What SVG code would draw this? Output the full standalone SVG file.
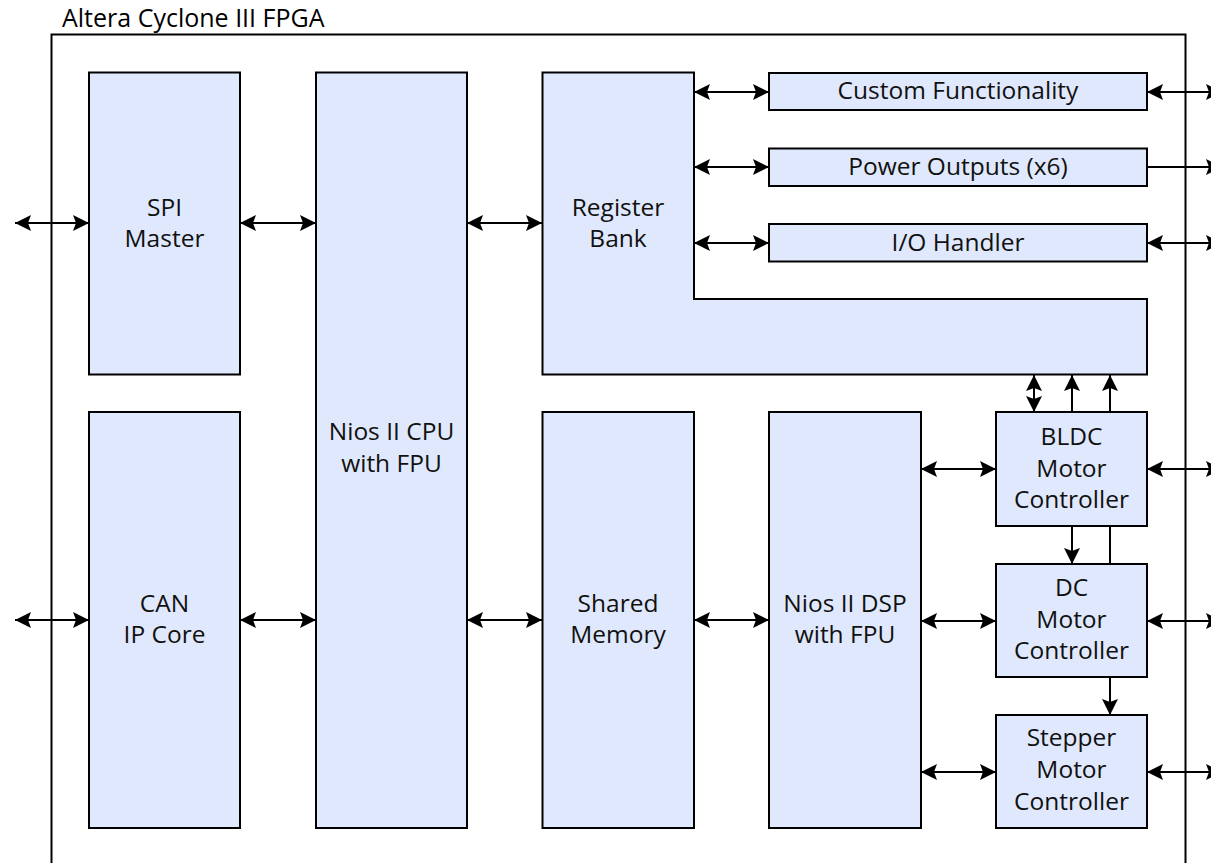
<svg xmlns="http://www.w3.org/2000/svg" width="1211" height="863" viewBox="0 0 1211 863">
<defs>
<style>
.box{fill:#dfe8fc;stroke:#000;stroke-width:2}
.lbl{font-family:"Open Sans","Noto Sans","DejaVu Sans",sans-serif;font-size:24.5px;fill:#111;text-anchor:middle}
.title{font-family:"Open Sans","Noto Sans","DejaVu Sans",sans-serif;font-size:25px;fill:#000}
.c{fill:none;stroke:#000;stroke-width:2}
.a2{marker-start:url(#ah);marker-end:url(#ah)}
.a1{marker-end:url(#ah)}
</style>
<marker id="ah" markerUnits="userSpaceOnUse" markerWidth="20" markerHeight="20" viewBox="-18 -10 20 20" refX="0" refY="0" orient="auto-start-reverse">
<path d="M0,0 L-16,-8 L-13,0 L-16,8 Z" fill="#000"/>
</marker>
</defs>
<rect width="1211" height="863" fill="#fff"/>
<text class="title" x="62" y="27">Altera Cyclone III FPGA</text>
<rect x="51.5" y="34.5" width="1134" height="900" fill="none" stroke="#000" stroke-width="2"/>

<g id="connectors">
<line class="c a2" x1="15" y1="223" x2="89" y2="223"/>
<line class="c a2" x1="240" y1="223" x2="316" y2="223"/>
<line class="c a2" x1="467" y1="223" x2="542" y2="223"/>
<line class="c a2" x1="15" y1="620" x2="89" y2="620"/>
<line class="c a2" x1="240" y1="620" x2="316" y2="620"/>
<line class="c a2" x1="467" y1="620" x2="542" y2="620"/>
<line class="c a2" x1="694" y1="620" x2="769" y2="620"/>
<line class="c a2" x1="694" y1="92" x2="769" y2="92"/>
<line class="c a2" x1="694" y1="167" x2="769" y2="167"/>
<line class="c a2" x1="694" y1="243" x2="769" y2="243"/>
<line class="c a2" x1="1147" y1="92" x2="1222" y2="92"/>
<line class="c a1" x1="1147" y1="167" x2="1222" y2="167"/>
<line class="c a2" x1="1147" y1="243" x2="1222" y2="243"/>
<line class="c a2" x1="921" y1="469" x2="996" y2="469"/>
<line class="c a2" x1="921" y1="621" x2="996" y2="621"/>
<line class="c a2" x1="921" y1="772" x2="996" y2="772"/>
<line class="c a2" x1="1147" y1="469" x2="1222" y2="469"/>
<line class="c a2" x1="1147" y1="621" x2="1222" y2="621"/>
<line class="c a2" x1="1147" y1="772" x2="1222" y2="772"/>
<line class="c a2" x1="1034" y1="375" x2="1034" y2="412"/>
<line class="c a1" x1="1072" y1="412" x2="1072" y2="375"/>
<line class="c a1" x1="1110" y1="412" x2="1110" y2="375"/>
<line class="c a1" x1="1072" y1="526" x2="1072" y2="564"/>
<line class="c" x1="1110" y1="526" x2="1110" y2="564"/>
<line class="c a1" x1="1110" y1="677" x2="1110" y2="715"/>
</g>

<g id="spi"><rect class="box" x="89" y="72.5" width="151" height="302"/>
<text class="lbl" x="164.5" y="216">SPI</text><text class="lbl" x="164.5" y="247">Master</text></g>
<g id="can"><rect class="box" x="89" y="412" width="151" height="416"/>
<text class="lbl" x="164.5" y="612">CAN</text><text class="lbl" x="164.5" y="643">IP Core</text></g>
<g id="cpu"><rect class="box" x="316" y="72.5" width="151" height="755.5"/>
<text class="lbl" x="391.5" y="440">Nios II CPU</text><text class="lbl" x="391.5" y="472">with FPU</text></g>
<g id="regbank"><path class="box" d="M542.5,72.5 H694 V299 H1147 V374.5 H542.5 Z"/>
<text class="lbl" x="618" y="216">Register</text><text class="lbl" x="618" y="247">Bank</text></g>
<g id="custom"><rect class="box" x="769" y="73" width="378" height="37"/>
<text class="lbl" x="958" y="99">Custom Functionality</text></g>
<g id="power"><rect class="box" x="769" y="148.5" width="378" height="37.5"/>
<text class="lbl" x="958" y="175">Power Outputs (x6)</text></g>
<g id="io"><rect class="box" x="769" y="224" width="378" height="37.5"/>
<text class="lbl" x="958" y="250.5">I/O Handler</text></g>
<g id="shared"><rect class="box" x="542.5" y="412" width="151.5" height="416"/>
<text class="lbl" x="618" y="612">Shared</text><text class="lbl" x="618" y="643">Memory</text></g>
<g id="dsp"><rect class="box" x="769" y="412" width="152" height="416"/>
<text class="lbl" x="845" y="612">Nios II DSP</text><text class="lbl" x="845" y="643">with FPU</text></g>
<g id="bldc"><rect class="box" x="996" y="412" width="151" height="114"/>
<text class="lbl" x="1071.5" y="445">BLDC</text><text class="lbl" x="1071.5" y="477">Motor</text><text class="lbl" x="1071.5" y="508">Controller</text></g>
<g id="dc"><rect class="box" x="996" y="564" width="151" height="113"/>
<text class="lbl" x="1071.5" y="596">DC</text><text class="lbl" x="1071.5" y="628">Motor</text><text class="lbl" x="1071.5" y="659">Controller</text></g>
<g id="stepper"><rect class="box" x="996" y="715" width="151" height="113"/>
<text class="lbl" x="1071.5" y="746">Stepper</text><text class="lbl" x="1071.5" y="778">Motor</text><text class="lbl" x="1071.5" y="810">Controller</text></g>
</svg>
